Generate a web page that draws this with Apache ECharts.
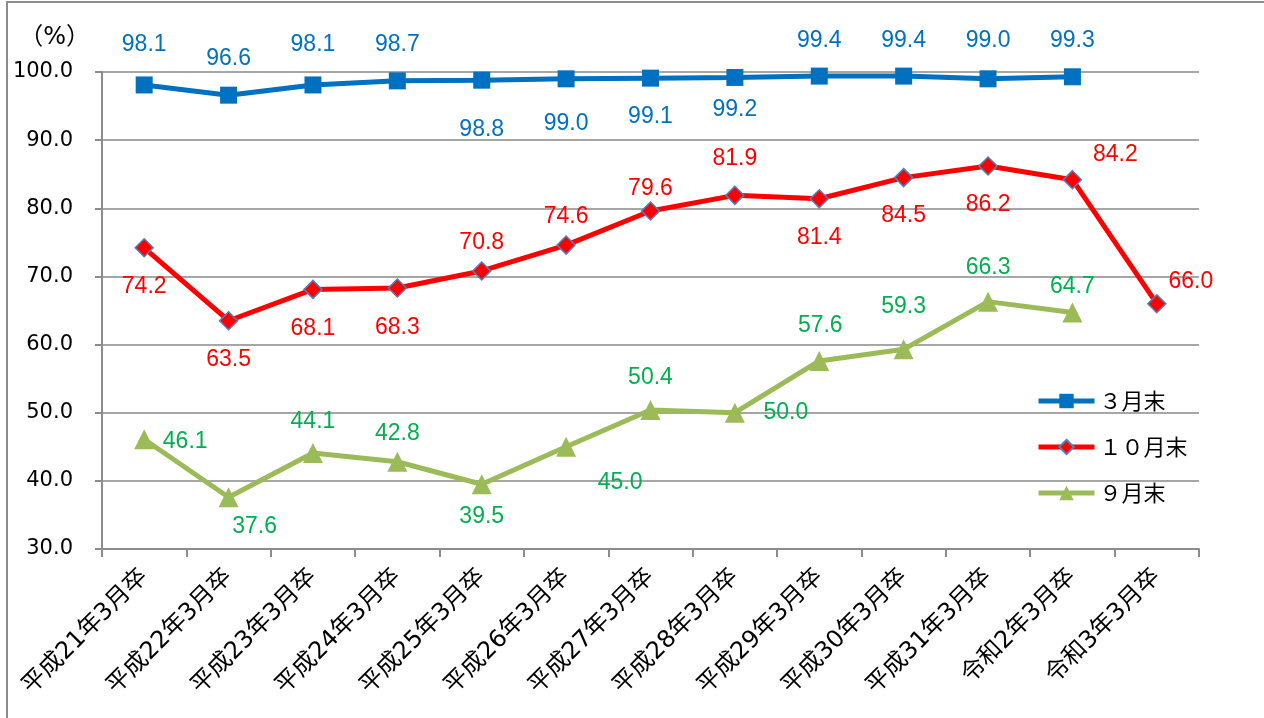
<!DOCTYPE html>
<html>
<head>
<meta charset="utf-8">
<script src="https://cdn.jsdelivr.net/npm/echarts@6/dist/echarts.min.js"></script>
<style>
  html, body { margin: 0; padding: 0; background: #fff; }
  #main { width: 1264px; height: 718px; }
</style>
</head>
<body>
<div id="main"></div>
<script>
const categories = ['平成21年3月卒', '平成22年3月卒', '平成23年3月卒', '平成24年3月卒', '平成25年3月卒',
  '平成26年3月卒', '平成27年3月卒', '平成28年3月卒', '平成29年3月卒', '平成30年3月卒',
  '平成31年3月卒', '令和2年3月卒', '令和3年3月卒']
const seriesNames = ['３月末', '１０月末', '９月末']
const march = [98.1, 96.6, 98.1, 98.7, 98.8, 99.0, 99.1, 99.2, 99.4, 99.4, 99.0, 99.3]
const october = [74.2, 63.5, 68.1, 68.3, 70.8, 74.6, 79.6, 81.9, 81.4, 84.5, 86.2, 84.2, 66.0]
const september = [46.1, 37.6, 44.1, 42.8, 39.5, 45.0, 50.4, 50.0, 57.6, 59.3, 66.3, 64.7]

// label placement (centre offset from the point), like the hand-moved labels in the original
const marchLabelOffset = [[0, -40], [0, -37], [0, -40], [0, -36], [0, 49], [0, 45], [0, 39], [0, 32],
  [0, -35], [0, -35], [0, -38], [0, -36]]
const octoberLabelOffset = [[0, 39], [0, 39], [0, 39], [0, 40], [0, -28], [0, -28], [0, -22], [0, -37],
  [0, 39], [0, 38], [0, 39], [43, -25], [34, -22]]
const septemberLabelOffset = [[41, 2], [26, 29], [0, -31], [0, -28], [0, 32], [54, 36], [0, -32], [51, 0],
  [1, -35], [0, -43], [0, -34], [0, -26]]

const font = '"DejaVu Sans", "Noto Sans CJK JP", sans-serif'
const labelFont = '"Liberation Sans", sans-serif'
const cjkFont = '"Noto Sans CJK JP", sans-serif'

function withLabels (values, offsets) {
  return values.map((v, i) => ({ value: v, label: { offset: offsets[i] } }))
}

function lineSeries (name, values, offsets, color, labelColor, symbol, size, border) {
  return {
    name: name,
    type: 'line',
    data: withLabels(values, offsets),
    symbol: symbol,
    symbolSize: size,
    lineStyle: { color: color, width: 5 },
    itemStyle: { color: color, borderColor: border || color, borderWidth: border ? 1.5 : 0 },
    label: {
      show: true,
      position: 'inside',
      color: labelColor,
      fontSize: 23,
      fontFamily: labelFont,
      formatter: p => p.value.toFixed(1)
    },
    z: 3
  }
}

const chart = echarts.init(document.getElementById('main'))
chart.setOption({
  animation: false,
  backgroundColor: '#fff',
  textStyle: { fontFamily: font },
  grid: { left: 102, right: 65, top: 72, bottom: 169 },
  graphic: [{
    type: 'rect',
    shape: { x: 7, y: 2, width: 1400, height: 900 },
    style: { fill: 'none', stroke: '#8c8c8c', lineWidth: 2 },
    silent: true
  }],
  legend: {
    orient: 'vertical',
    left: 1031,
    top: 385,
    itemWidth: 56,
    itemHeight: 18,
    itemGap: 24,
    lineStyle: { width: 5 },
    textStyle: { fontSize: 22, color: '#000', fontFamily: cjkFont },
    data: seriesNames
  },
  xAxis: {
    type: 'category',
    data: categories,
    axisLine: { lineStyle: { color: '#8c8c8c', width: 2 } },
    axisTick: { show: true, length: 8, lineStyle: { color: '#8c8c8c', width: 2 } },
    axisLabel: { rotate: 45, fontSize: 24, color: '#000', margin: 24, interval: 0, fontFamily: font }
  },
  yAxis: {
    type: 'value',
    min: 30,
    max: 100,
    interval: 10,
    name: '（%）',
    nameLocation: 'end',
    nameGap: 22,
    nameTextStyle: { fontSize: 24, color: '#000', align: 'right', padding: [0, 12, 0, 0], fontFamily: font },
    axisLine: { show: true, lineStyle: { color: '#8c8c8c', width: 2 } },
    axisTick: { show: true, length: 7, lineStyle: { color: '#8c8c8c', width: 2 } },
    axisLabel: { fontSize: 21, color: '#000', margin: 29, formatter: v => v.toFixed(1), fontFamily: font },
    splitLine: { lineStyle: { color: '#a6a6a6', width: 2 } }
  },
  series: [
    lineSeries(seriesNames[0], march, marchLabelOffset, '#0070c0', '#0070c0', 'rect', 17),
    lineSeries(seriesNames[1], october, octoberLabelOffset, '#ff0000', '#ff0000', 'diamond', 18, '#4f81bd'),
    lineSeries(seriesNames[2], september, septemberLabelOffset, '#9bbb59', '#00b050', 'triangle', 20)
  ]
})
</script>
</body>
</html>
